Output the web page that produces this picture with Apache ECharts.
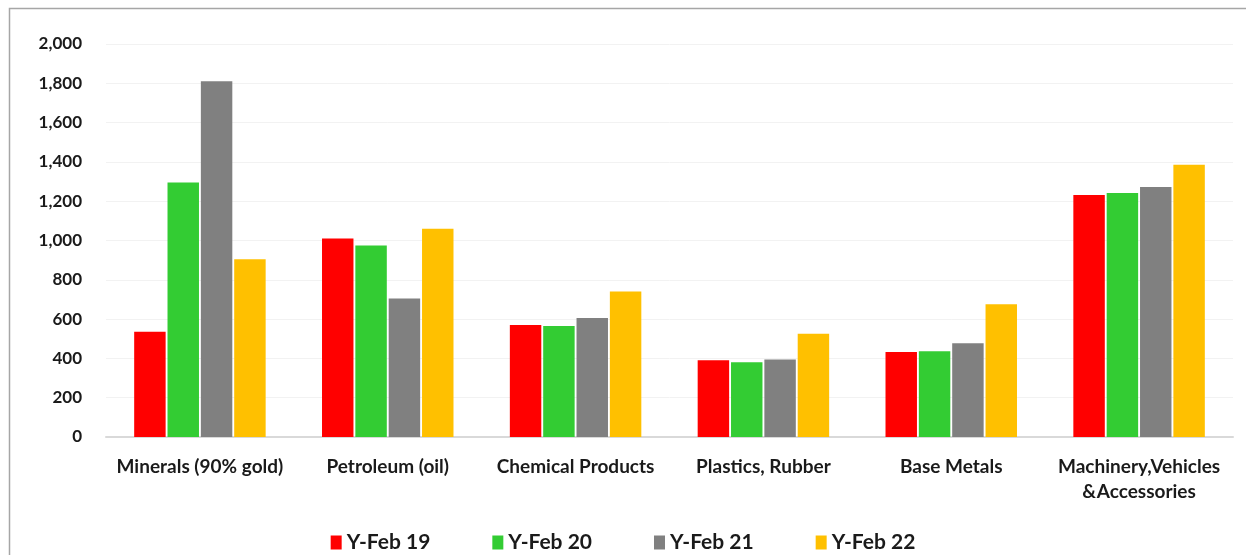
<!DOCTYPE html>
<html>
<head>
<meta charset="utf-8">
<script src="https://cdn.jsdelivr.net/npm/echarts@6/dist/echarts.min.js"></script>
<style>
  html, body { margin: 0; padding: 0; background: #fff; }
  #chart { width: 1246px; height: 555px; }
</style>
</head>
<body>
<div id="chart"></div>
<script>
// Import categories and yearly values (US$ Million)
const categories = [
  'Minerals (90% gold)',
  'Petroleum (oil)',
  'Chemical Products',
  'Plastics, Rubber',
  'Base Metals',
  'Machinery,Vehicles\n&Accessories'
];
const seriesNames = ['Y-Feb 19', 'Y-Feb 20', 'Y-Feb 21', 'Y-Feb 22'];
const yFeb19 = [535, 1010, 570, 390, 432, 1232];
const yFeb20 = [1295, 975, 565, 380, 437, 1242];
const yFeb21 = [1810, 705, 605, 395, 477, 1272];
const yFeb22 = [905, 1060, 740, 525, 675, 1385];
const yTicks = { min: 0, max: 2000, step: 200 };

const colors = ['#FF0000', '#33CC33', '#808080', '#FFC000'];
const values = [yFeb19, yFeb20, yFeb21, yFeb22];
const fontFamily = 'Lato, "Open Sans", sans-serif';

const chart = echarts.init(document.getElementById('chart'), null, { renderer: 'canvas' });

chart.setOption({
  animation: false,
  backgroundColor: '#ffffff',
  color: colors,
  graphic: [{
    type: 'polyline',
    shape: { points: [[9.5, 555], [9.5, 8.5], [1246, 8.5]] },
    style: { stroke: '#a6a6a6', lineWidth: 1.5, fill: null },
    silent: true
  }],
  grid: { left: 106, right: 13, top: 44, bottom: 118, containLabel: false },
  legend: {
    bottom: -3,
    left: 'center',
    itemWidth: 11,
    itemHeight: 14,
    itemGap: 62,
    icon: 'rect',
    textStyle: { fontFamily, fontSize: 21, fontWeight: 'bold', color: '#1a1a1a' },
    data: seriesNames
  },
  xAxis: {
    type: 'category',
    data: categories,
    axisLine: { lineStyle: { color: '#d9d9d9', width: 2 } },
    axisTick: { show: false },
    axisLabel: {
      interval: 0,
      margin: 17,
      fontFamily,
      fontSize: 19,
      fontWeight: 'bold',
      color: '#1a1a1a',
      lineHeight: 25
    }
  },
  yAxis: {
    type: 'value',
    min: yTicks.min,
    max: yTicks.max,
    interval: yTicks.step,
    axisLine: { show: false },
    axisTick: { show: false },
    splitLine: { lineStyle: { color: '#f2f2f2', width: 1 } },
    axisLabel: {
      margin: 24,
      fontFamily,
      fontSize: 17,
      fontWeight: 'bold',
      color: '#1a1a1a',
      formatter: v => v.toLocaleString('en-US')
    }
  },
  series: seriesNames.map((name, i) => ({
    name,
    type: 'bar',
    data: values[i],
    barGap: '6%',
    barCategoryGap: '30%',
    itemStyle: { color: colors[i] }
  }))
});
</script>
</body>
</html>
